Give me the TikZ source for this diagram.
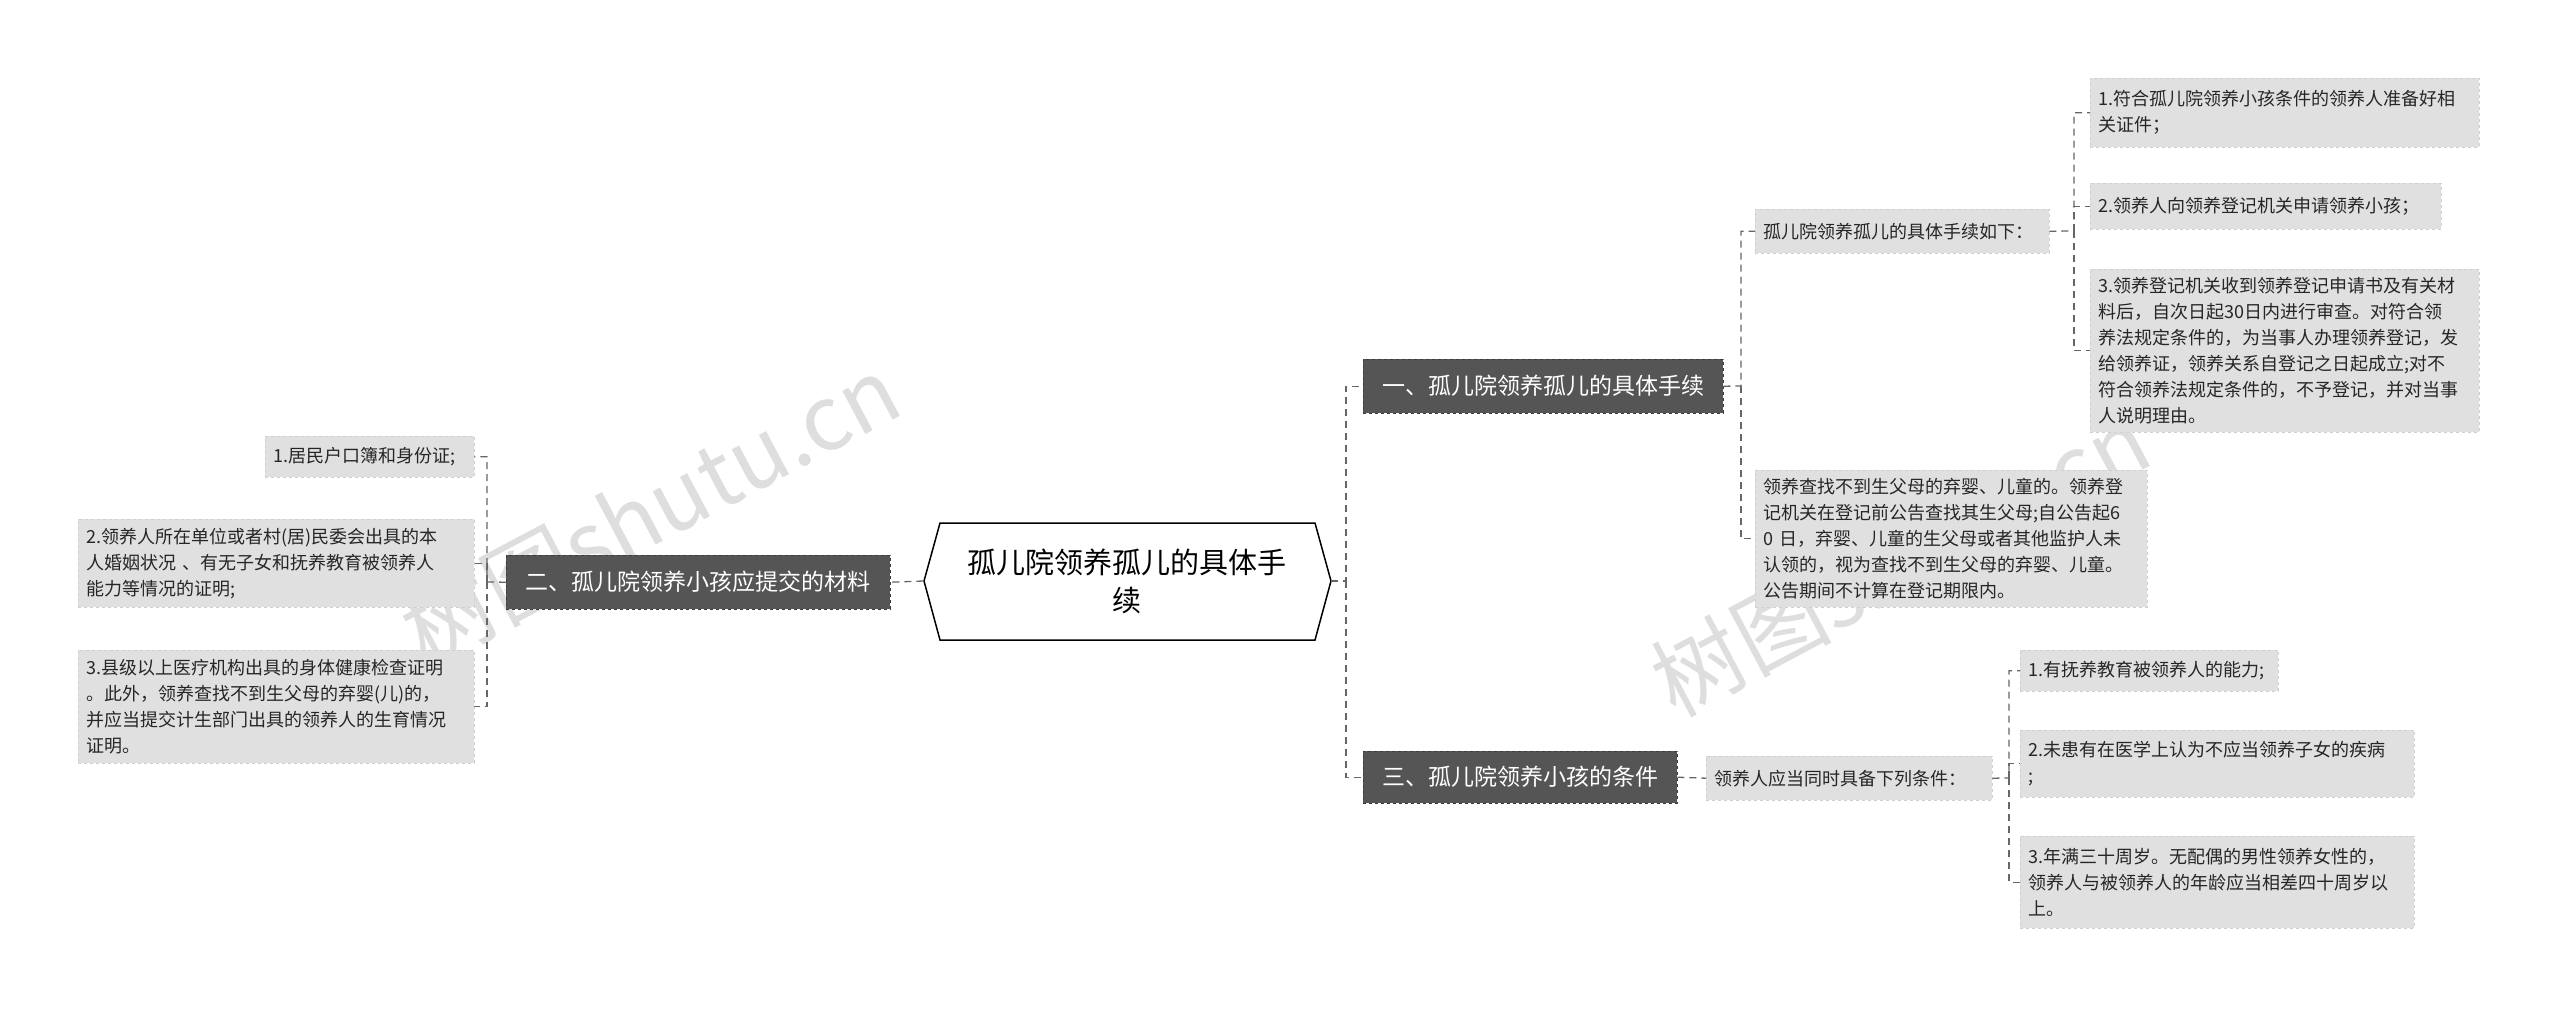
\documentclass[tikz,border=0pt]{standalone}
\usepackage{fontspec}
\setmainfont{Noto Sans CJK SC}
\begin{document}
\begin{tikzpicture}[x=1pt,y=-1pt,
  leaf/.style={fill=boxgray,draw=boxedge,dashed,inner sep=8pt,align=left,font=\fontsize{18}{26}\selectfont,text=black!85},
  br/.style={fill=brgray,draw=brgray!70!black,dashed,inner sep=6pt,font=\fontsize{23}{28}\selectfont,text=white},
  link/.style={draw=black!60,dash pattern=on 7pt off 5pt,line width=1.3pt}]
\definecolor{boxgray}{HTML}{E0E0E0}
\definecolor{boxedge}{HTML}{D0D0D0}
\definecolor{brgray}{HTML}{555555}
\useasboundingbox (0,0) rectangle (2560,1009);
\fill[white] (0,0) rectangle (2560,1009);
% watermarks
\node[text=black!13,rotate=28,font=\fontsize{90}{90}\selectfont] at (650,510) {树图shutu.cn};
\node[text=black!13,rotate=28,font=\fontsize{90}{90}\selectfont] at (1900,560) {树图shutu.cn};
% helper
\newcommand\gb[6]{\node[leaf,anchor=north west,minimum width=#4-#2,minimum height=#5-#3,text width=#4-#2-16] (#1) at (#2,#3) {#6};}
% root
\node[align=center,font=\fontsize{29}{38}\selectfont,minimum width=407,minimum height=117] (root) at (1127,581) {孤儿院领养孤儿的具体手\\续};
\draw[line width=1.5pt] (924,581)--(940,523)--(1315,523)--(1331,581)--(1315,640)--(940,640)--cycle;
% branches
\node[br,anchor=north west,minimum width=360,minimum height=54] (b1) at (1363,359) {一、孤儿院领养孤儿的具体手续};
\node[br,anchor=north west,minimum width=314,minimum height=52] (b3) at (1363,751) {三、孤儿院领养小孩的条件};
\node[br,anchor=north west,minimum width=384,minimum height=54] (b2) at (506,555) {二、孤儿院领养小孩应提交的材料};
% branch1 children
\gb{p}{1755}{209}{2049}{253}{孤儿院领养孤儿的具体手续如下：}
\gb{i1}{2090}{78}{2479}{147}{1.符合孤儿院领养小孩条件的领养人准备好相\\关证件；}
\gb{i2}{2090}{183}{2441}{229}{2.领养人向领养登记机关申请领养小孩；}
\gb{i3}{2090}{269}{2479}{429}{3.领养登记机关收到领养登记申请书及有关材\\料后，自次日起30日内进行审查。对符合领\\养法规定条件的，为当事人办理领养登记，发\\给领养证，领养关系自登记之日起成立;对不\\符合领养法规定条件的，不予登记，并对当事\\人说明理由。}
\gb{q}{1755}{470}{2147}{607}{领养查找不到生父母的弃婴、儿童的。领养登\\记机关在登记前公告查找其生父母;自公告起6\\0 日，弃婴、儿童的生父母或者其他监护人未\\认领的，视为查找不到生父母的弃婴、儿童。\\公告期间不计算在登记期限内。}
% branch3 children
\gb{k}{1706}{756}{1992}{800}{领养人应当同时具备下列条件：}
\gb{c1}{2020}{650}{2278}{691}{1.有抚养教育被领养人的能力;}
\gb{c2}{2020}{730}{2414}{797}{2.未患有在医学上认为不应当领养子女的疾病\\;}
\gb{c3}{2020}{836}{2414}{928}{3.年满三十周岁。无配偶的男性领养女性的，\\领养人与被领养人的年龄应当相差四十周岁以\\上。}
% branch2 children
\gb{m1}{265}{436}{474}{477}{1.居民户口簿和身份证;}
\gb{m2}{78}{519}{474}{607}{2.领养人所在单位或者村(居)民委会出具的本\\人婚姻状况 、有无子女和抚养教育被领养人\\能力等情况的证明;}
\gb{m3}{78}{650}{474}{763}{3.县级以上医疗机构出具的身体健康检查证明\\。此外，领养查找不到生父母的弃婴(儿)的，\\并应当提交计生部门出具的领养人的生育情况\\证明。}
% connectors
\draw[link] (root.east) -- (1346,581) |- (b1.west);
\draw[link] (1346,581) |- (b3.west);
\draw[link] (root.west) -- (b2.east);
\draw[link] (b1.east) -- (1741,386) |- (p.west);
\draw[link] (1741,386) |- (q.west);
\draw[link] (p.east) -- (2074,231) |- (i1.west);
\draw[link] (2074,231) |- (i2.west);
\draw[link] (2074,231) |- (i3.west);
\draw[link] (b3.east) -- (k.west);
\draw[link] (k.east) -- (2009,778) |- (c1.west);
\draw[link] (2009,778) |- (c2.west);
\draw[link] (2009,778) |- (c3.west);
\draw[link] (b2.west) -- (487,582) |- (m1.east);
\draw[link] (487,582) |- (m2.east);
\draw[link] (487,582) |- (m3.east);
\end{tikzpicture}
\end{document}
